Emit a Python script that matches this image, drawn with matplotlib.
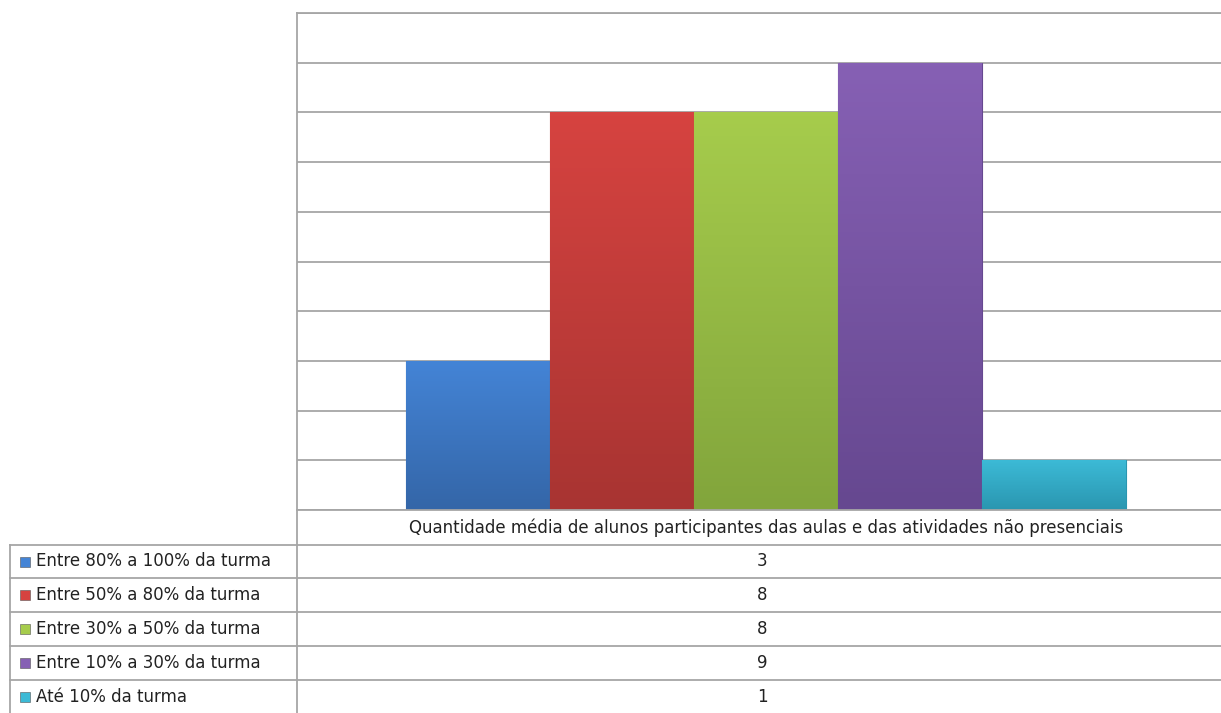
import matplotlib
matplotlib.use("Agg")
import matplotlib.pyplot as plt
import numpy as np
from matplotlib.colors import LinearSegmentedColormap, to_rgb

categoria = "Quantidade média de alunos participantes das aulas e das atividades não presenciais"
series = ["Entre 80% a 100% da turma", "Entre 50% a 80% da turma", "Entre 30% a 50% da turma",
          "Entre 10% a 30% da turma", "Até 10% da turma"]
valores = [3, 8, 8, 9, 1]
cores_topo = ["#4484d6", "#d64340", "#a6cc4c", "#8660b4", "#3cbad6"]
cores_base = ["#3466a8", "#a83432", "#82a53c", "#664890", "#2a96b0"]

W, H = 1221, 713
fig = plt.figure(figsize=(W / 100, H / 100), dpi=100)
grid_c = "#a6a6a6"

# area do grafico
ax = fig.add_axes([297 / W, 1 - 510 / H, 1 - 297 / W, (510 - 13) / H])
largura = 144
x0 = 109
for i, (v, ct, cb) in enumerate(zip(valores, cores_topo, cores_base)):
    barra = ax.bar(x0 + i * largura, v, width=largura, align="edge", color=ct,
                   edgecolor=cb, linewidth=0.8, zorder=3)[0]
    cmap = LinearSegmentedColormap.from_list("g", [to_rgb(cb), to_rgb(ct)])
    grad = np.linspace(0, 1, 100).reshape(-1, 1)
    im = ax.imshow(grad, cmap=cmap, origin="lower", aspect="auto", zorder=3,
                   extent=[barra.get_x(), barra.get_x() + barra.get_width(), 0, v])
    im.set_clip_path(barra)
ax.set_xlim(0, 924)
ax.set_ylim(0, 10)
ax.set_yticks(range(0, 11))
ax.yaxis.grid(True, color=grid_c, linewidth=1.3, zorder=0)
ax.tick_params(left=False, bottom=False, labelleft=False, labelbottom=False)
for s in ["right", "bottom"]:
    ax.spines[s].set_visible(False)
for s in ["left", "top"]:
    ax.spines[s].set_color(grid_c)
    ax.spines[s].set_linewidth(1.3)

# tabela de dados
tab = fig.add_axes([0, 0, 1, 1])
tab.set_xlim(0, W)
tab.set_ylim(H, 0)
tab.axis("off")
linhas_y = [510, 545, 578, 612, 646, 680, 713]
tab.plot([297, W], [510, 510], color=grid_c, lw=1.3)
tab.plot([297, 297], [510, 713], color=grid_c, lw=1.3)
tab.plot([10, 10], [545, 713], color=grid_c, lw=1.3)
for y in linhas_y[1:-1]:
    tab.plot([10, W], [y, y], color=grid_c, lw=1.3)
tab.text(766, (510 + 545) / 2, categoria, ha="center", va="center", fontsize=12, color="#222222")
for i, (nome, v, c) in enumerate(zip(series, valores, cores_topo)):
    yc = (linhas_y[i + 1] + linhas_y[i + 2]) / 2
    tab.scatter([25], [yc], marker="s", s=55, color=c, edgecolor="#555555", linewidths=0.4)
    tab.text(36, yc, nome, ha="left", va="center", fontsize=12, color="#222222")
    tab.text(762, yc, str(v), ha="center", va="center", fontsize=12, color="#222222")

fig.savefig("out.png", dpi=100, facecolor="white")
